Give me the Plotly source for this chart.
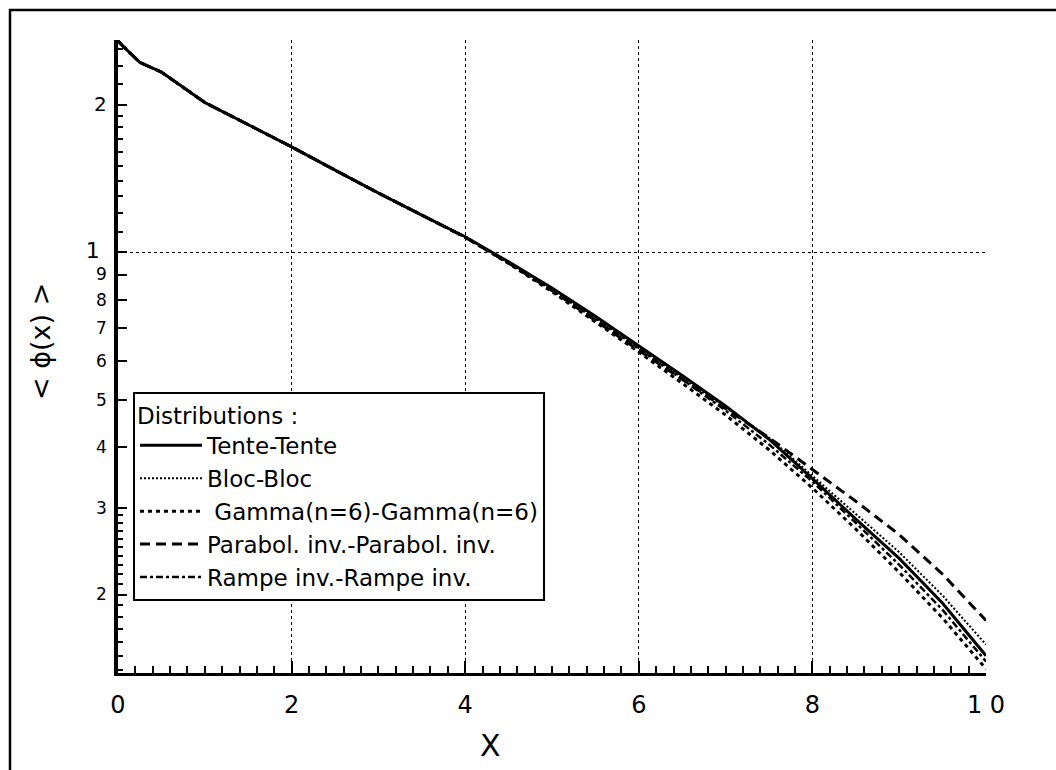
import numpy as np
import plotly.graph_objects as go

x = [0, 0.05, 0.25, 0.5, 1, 1.5, 2, 2.5, 3, 3.5, 4, 4.5, 5, 5.5, 6, 6.5, 7, 7.5, 8, 8.5, 9, 9.5, 10]

tente = [2.70, 2.64, 2.44, 2.33, 2.02, 1.82, 1.64, 1.47, 1.32, 1.19, 1.075, 0.955, 0.845, 0.74, 0.645, 0.56, 0.485, 0.415, 0.345, 0.285, 0.237, 0.192, 0.150]
bloc = [2.70, 2.64, 2.44, 2.33, 2.02, 1.82, 1.64, 1.47, 1.32, 1.19, 1.075, 0.952, 0.837, 0.732, 0.637, 0.554, 0.482, 0.418, 0.350, 0.292, 0.244, 0.199, 0.158]
gamma = [2.70, 2.64, 2.44, 2.33, 2.02, 1.82, 1.64, 1.47, 1.32, 1.19, 1.072, 0.948, 0.830, 0.720, 0.625, 0.540, 0.465, 0.395, 0.330, 0.272, 0.222, 0.179, 0.141]
parabol = [2.70, 2.64, 2.44, 2.33, 2.02, 1.82, 1.64, 1.47, 1.32, 1.19, 1.072, 0.950, 0.835, 0.725, 0.630, 0.550, 0.480, 0.418, 0.360, 0.310, 0.265, 0.220, 0.177]
rampe = [2.70, 2.64, 2.44, 2.33, 2.02, 1.82, 1.64, 1.47, 1.32, 1.19, 1.073, 0.950, 0.835, 0.730, 0.635, 0.550, 0.475, 0.405, 0.340, 0.280, 0.230, 0.186, 0.146]

names = ["Tente-Tente", "Bloc-Bloc", " Gamma(n=6)-Gamma(n=6)", "Parabol. inv.-Parabol. inv.", "Rampe inv.-Rampe inv."]

y_major = [0.2, 0.3, 0.4, 0.5, 0.6, 0.7, 0.8, 0.9, 1, 2]
y_major_text = ["2", "3", "4", "5", "6", "7", "8", "9",
                "<span style='font-size:22px'>1 </span>", "<span style='font-size:20px'>2</span>"]
y_minor = [0.14, 0.15, 0.16, 0.17, 0.18, 0.19, 0.21, 0.22, 0.23, 0.24, 0.25, 0.26, 0.27, 0.28, 0.29,
           1.1, 1.2, 1.3, 1.4, 1.5, 1.6, 1.7, 1.8, 1.9, 2.2, 2.4, 2.6]
x_major = [0, 2, 4, 6, 8, 10]
x_major_text = ["0", "2", "4", "6", "8", "1 0"]

FONT = "Liberation Sans, Arial, Helvetica, sans-serif"
LFONT = "DejaVu Sans, Liberation Sans, sans-serif"

fig = go.Figure()
styles = [
    (tente, dict(color="black", width=3, dash="solid")),
    (bloc, dict(color="black", width=2, dash="2px,2px")),
    (gamma, dict(color="black", width=3, dash="4px,4px")),
    (parabol, dict(color="black", width=3, dash="10px,6px")),
    (rampe, dict(color="black", width=2.5, dash="7px,3px,3px,3px")),
]
for (ys, ln), nm in zip(styles, names):
    fig.add_trace(go.Scatter(x=x, y=ys, mode="lines", name=nm, line=ln))

ylo, yhi = np.log10(0.1383), np.log10(2.71)

fig.update_layout(
    width=1056, height=770,
    margin=dict(l=118, r=70, t=40, b=97),
    paper_bgcolor="white", plot_bgcolor="white",
    font=dict(family=FONT, color="black", size=18),
    showlegend=True,
    legend=dict(
        x=(133 - 118) / 868, y=(673 - 392) / 633, xanchor="left", yanchor="top",
        bgcolor="white", bordercolor="black", borderwidth=2,
        font=dict(size=23, family=LFONT),
        title=dict(text="Distributions :", font=dict(size=23, family=LFONT)),
        itemwidth=62, tracegroupgap=0,
    ),
    xaxis=dict(
        range=[0, 10], tickvals=x_major, ticktext=x_major_text,
        ticks="inside", ticklen=12, tickwidth=2, tickcolor="black",
        showline=True, linecolor="black", linewidth=3,
        showgrid=True, gridcolor="black", griddash="dot", gridwidth=1,
        zeroline=False, tickfont=dict(size=24, family=LFONT), ticklabelstandoff=8,
        minor=dict(dtick=0.2, ticks="inside", ticklen=7, tickwidth=2, tickcolor="black", showgrid=False),
    ),
    yaxis=dict(
        type="log", range=[ylo, yhi], tickvals=y_major, ticktext=y_major_text,
        ticks="inside", ticklen=9, tickwidth=2, tickcolor="black",
        showline=True, linecolor="black", linewidth=3.5,
        showgrid=False, zeroline=False, tickfont=dict(size=17, family=LFONT), ticklabelstandoff=4,
        minor=dict(tickvals=y_minor, ticks="inside", ticklen=5, tickwidth=2, tickcolor="black", showgrid=False),
    ),
    yaxis2=dict(
        type="log", range=[ylo, yhi], overlaying="y", tickvals=[1],
        showticklabels=False, ticks="", showline=False,
        showgrid=True, gridcolor="black", griddash="dot", gridwidth=1, zeroline=False,
    ),
    annotations=[
        dict(text="X", xref="paper", yref="paper", x=(490 - 118) / 868, y=(673 - 745) / 633,
             showarrow=False, font=dict(size=30, family=LFONT), xanchor="center", yanchor="middle"),
        dict(text="< ϕ(x) >", xref="paper", yref="paper", x=(40 - 118) / 868, y=(673 - 342) / 633,
             showarrow=False, font=dict(size=27, family=LFONT), textangle=-90, xanchor="center", yanchor="middle"),
    ],
    shapes=[
        dict(type="rect", xref="paper", yref="paper", x0=(10 - 118) / 868, x1=1.2,
             y0=-0.3, y1=(673 - 10) / 633, line=dict(color="black", width=2.5), fillcolor="rgba(0,0,0,0)"),
    ],
)
# invisible trace to activate yaxis2 grid
fig.add_trace(go.Scatter(x=[0], y=[1], yaxis="y2", mode="lines", showlegend=False, hoverinfo="skip",
                         line=dict(width=0)))

fig.write_html("out.html")
